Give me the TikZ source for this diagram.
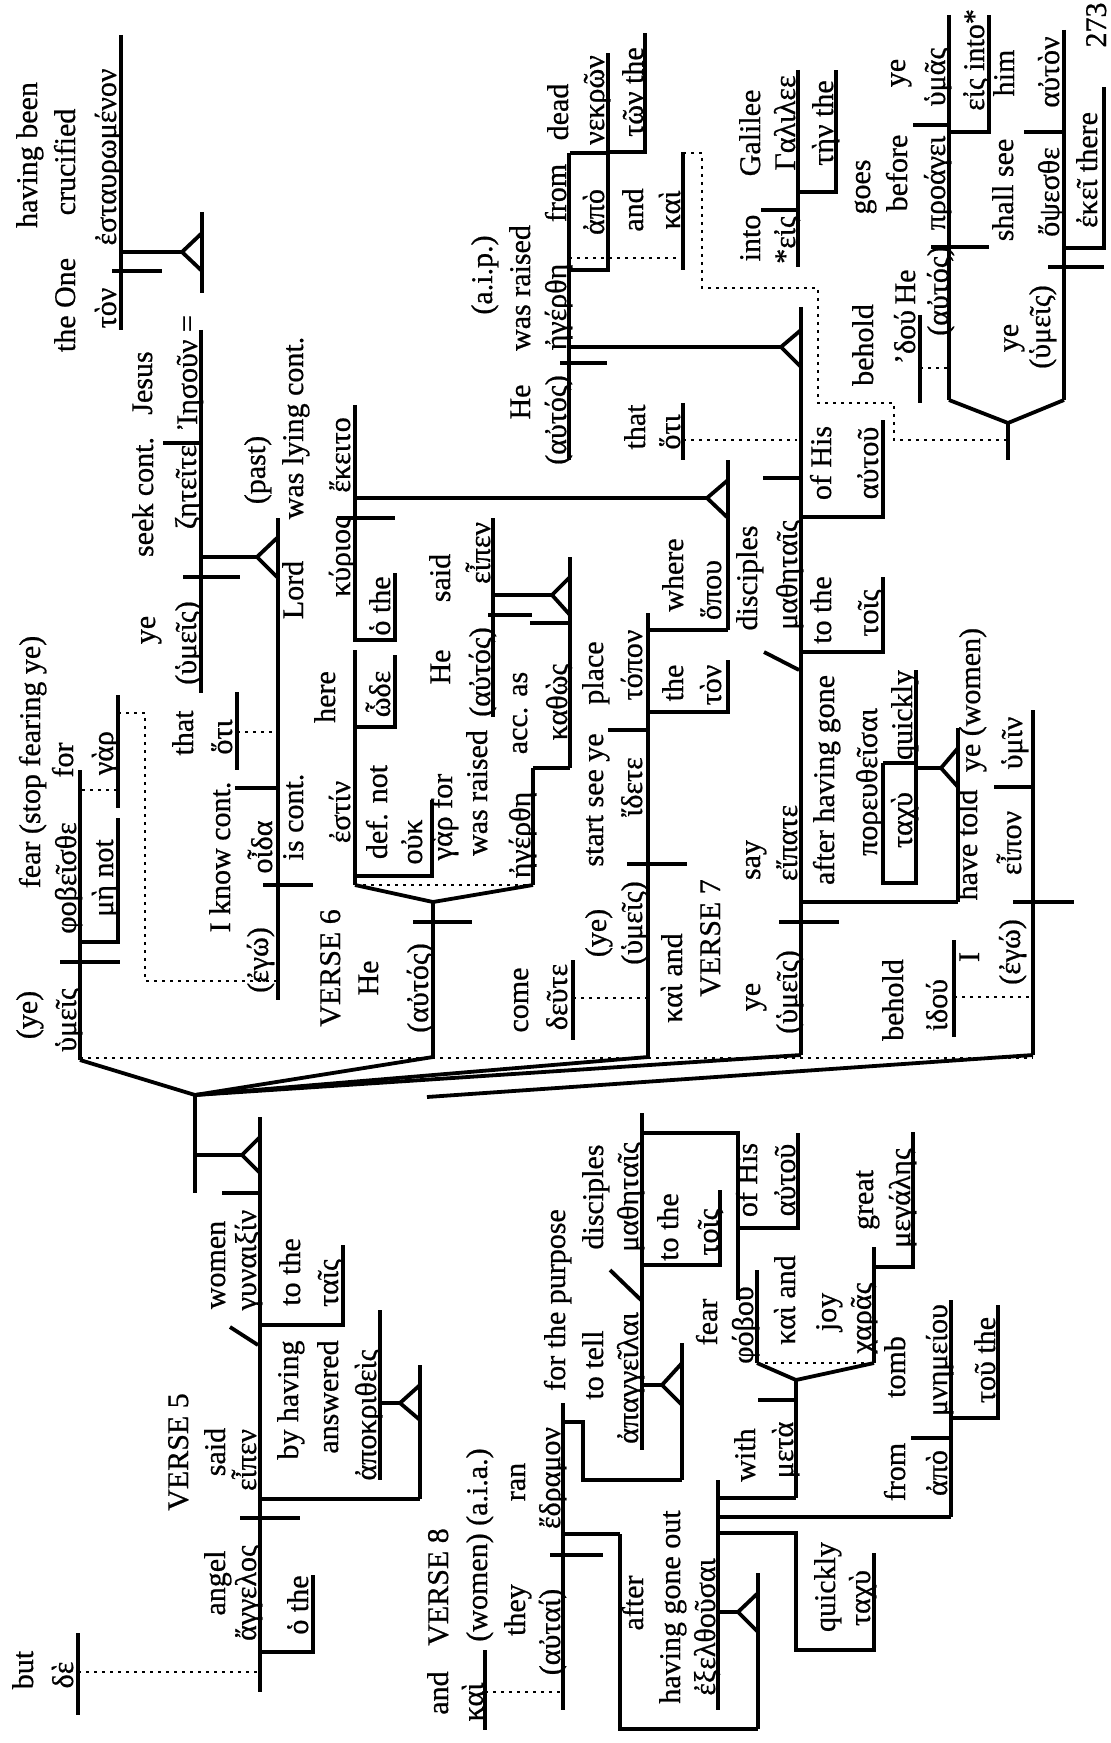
\documentclass[tikz,border=0pt]{standalone}
\usepackage{fontspec}
\setmainfont{Liberation Serif}[FakeBold=0.7]
\newcommand{\wfont}{\fontsize{15}{18}\selectfont}
\begin{document}
\begin{tikzpicture}[x=0.5pt,y=-0.5pt,
  wd/.style={rotate=90, anchor=base, inner sep=0pt, font=\wfont},
  ln/.style={line width=1.9pt},
  dt/.style={line width=1.3pt, dash pattern=on 1.3pt off 2.7pt}]
\fill[white] (0,0) rectangle (1111,1743);
\useasboundingbox (0,0) rectangle (1111,1743);
% ---------- texts ----------
\node[wd] (t1) at (37,155) {having been};
\node[wd] (t2) at (75,162) {crucified};
\node[wd] (t3) at (75,305) {the One};
\node[wd] (t4) at (116,157) {ἐσταυρωμένον};
\node[wd] (t5) at (116,308) {τὸν};
\node[wd] (t6) at (152,383) {Jesus};
\node[wd] (t7) at (197,372) {Ἰησοῦν =};
\node[wd] (t8) at (153,497) {seek cont.};
\node[wd] (t9) at (196,487) {ζητεῖτε};
\node[wd] (t10) at (155,630) {ye};
\node[wd] (t11) at (196,643) {(ὑμεῖς)};
\node[wd] (t12) at (265,470) {(past)};
\node[wd] (t13) at (303,428) {was lying cont.};
\node[wd] (t14) at (350,455) {ἔκειτο};
\node[wd] (t15) at (303,590) {Lord};
\node[wd] (t16) at (350,557) {κύριος};
\node[wd] (t17) at (390,606) {ὁ the};
\node[wd] (t18) at (40,762) {fear (stop fearing ye)};
\node[wd] (t19) at (76,878) {φοβεῖσθε};
\node[wd] (t20) at (113,878) {μὴ not};
\node[wd] (t21) at (73,760) {for};
\node[wd] (t22) at (113,753) {γὰρ};
\node[wd] (t23) at (193,733) {that};
\node[wd] (t24) at (232,737) {ὅτι};
\node[wd] (t25) at (230,857) {I know cont.};
\node[wd] (t26) at (272,847) {οἶδα};
\node[wd] (t27) at (303,817) {is cont.};
\node[wd] (t28) at (350,812) {ἐστίν};
\node[wd] (t29) at (335,697) {here};
\node[wd] (t30) at (390,694) {ὧδε};
\node[wd] (t31) at (37,1015) {(ye)};
\node[wd] (t32) at (76,1020) {ὑμεῖς};
\node[wd] (t33) at (268,960) {(ἐγώ)};
\node[wd] (t34) at (340,968) {VERSE 6};
\node[wd] (t35) at (378,978) {He};
\node[wd] (t36) at (428,988) {(αὐτός)};
\node[wd] (t37) at (387,812) {def. not};
\node[wd] (t38) at (422,842) {οὐκ};
\node[wd] (t39) at (452,817) {γὰρ for};
\node[wd] (t40) at (450,578) {said};
\node[wd] (t41) at (450,667) {He};
\node[wd] (t42) at (490,553) {εἶπεν};
\node[wd] (t43) at (490,672) {(αὐτός)};
\node[wd] (t44) at (487,793) {was raised};
\node[wd] (t45) at (527,713) {acc. as};
\node[wd] (t46) at (567,702) {καθὼς};
\node[wd] (t47) at (530,835) {ἠγέρθη};
\node[wd] (t48) at (683,575) {where};
\node[wd] (t49) at (721,590) {ὅπου};
\node[wd] (t50) at (683,683) {the};
\node[wd] (t51) at (721,685) {τὸν};
\node[wd] (t52a) at (603,800) {start see ye};
\node[wd] (t52b) at (603,673) {place};
\node[wd] (t53) at (642,787) {ἴδετε};
\node[wd] (t54) at (642,665) {τόπον};
\node[wd] (t55) at (606,933) {(ye)};
\node[wd] (t56) at (642,923) {(ὑμεῖς)};
\node[wd] (t57) at (528,1000) {come};
\node[wd] (t58) at (567,997) {δεῦτε};
\node[wd] (t59) at (682,978) {καὶ and};
\node[wd] (t60) at (720,938) {VERSE 7};
\node[wd] (t61) at (760,997) {ye};
\node[wd] (t62) at (797,992) {(ὑμεῖς)};
\node[wd] (t63) at (760,860) {say};
\node[wd] (t64) at (797,843) {εἴπατε};
\node[wd] (t65) at (492,275) {(a.i.p.)};
\node[wd] (t66) at (530,288) {was raised};
\node[wd] (t67) at (566,307) {ἠγέρθη};
\node[wd] (t68) at (566,193) {from};
\node[wd] (t69) at (604,212) {ἀπὸ};
\node[wd] (t70) at (568,112) {dead};
\node[wd] (t71) at (604,100) {νεκρῶν};
\node[wd] (t72) at (643,92) {τῶν the};
\node[wd] (t73) at (643,210) {and};
\node[wd] (t74) at (680,210) {καὶ};
\node[wd] (t75) at (530,402) {He};
\node[wd] (t76) at (566,420) {(αὐτός)};
\node[wd] (t77) at (645,427) {that};
\node[wd] (t78) at (680,432) {ὅτι};
\node[wd] (t79) at (760,238) {into};
\node[wd] (t80) at (795,240) {*εἰς};
\node[wd] (t81) at (760,133) {Galilee};
\node[wd] (t82) at (795,123) {Γαλιλεε};
\node[wd] (t83) at (833,123) {τὴν the};
\node[wd] (t84) at (870,187) {goes};
\node[wd] (t85) at (907,173) {before};
\node[wd] (t86) at (945,183) {προάγει};
\node[wd] (t87) at (905,73) {ye};
\node[wd] (t88) at (945,77) {ὑμᾶς};
\node[wd] (t89) at (984,60) {εἰς into*};
\node[wd] (t90) at (1013,190) {shall see};
\node[wd] (t91) at (1059,192) {ὄψεσθε};
\node[wd] (t92) at (1014,73) {him};
\node[wd] (t93) at (1059,72) {αὐτὸν};
\node[wd] (t94) at (1097,170) {ἐκεῖ there};
\node[wd] (t95) at (1018,338) {ye};
\node[wd] (t96) at (1050,327) {(ὑμεῖς)};
\node[wd] (t97) at (873,345) {behold};
\node[wd] (t98) at (915,337) {’δού};
\node[wd] (t99) at (915,287) {He};
\node[wd] (t100) at (948,291) {(αὐτός)};
\node[wd] (t101) at (1106,25) {273};
\node[wd] (t102) at (757,578) {disciples};
\node[wd] (t103) at (797,575) {μαθηταῖς};
\node[wd] (t104) at (831,463) {of His};
\node[wd] (t105) at (878,463) {αὐτοῦ};
\node[wd] (t106) at (831,610) {to the};
\node[wd] (t107) at (878,613) {τοῖς};
\node[wd] (t108) at (834,780) {after having gone};
\node[wd] (t109) at (877,782) {πορευθεῖσαι};
\node[wd] (t110) at (912,820) {ταχὺ};
\node[wd] (t111) at (912,715) {quickly};
\node[wd] (t112) at (980,700) {ye (women)};
\node[wd] (t113) at (1022,743) {ὑμῖν};
\node[wd] (t114) at (977,845) {have told};
\node[wd] (t115) at (1021,843) {εἶπον};
\node[wd] (t116) at (903,1000) {behold};
\node[wd] (t117) at (947,1005) {ἰδού};
\node[wd] (t118) at (979,957) {I};
\node[wd] (t119) at (1020,952) {(ἐγώ)};
\node[wd] (t120) at (873,1200) {great};
\node[wd] (t121) at (910,1198) {μεγάλης};
\node[wd] (t122) at (565,1300) {for the purpose};
\node[wd] (t123) at (603,1197) {disciples};
\node[wd] (t124) at (638,1197) {μαθηταῖς};
\node[wd] (t125) at (678,1227) {to the};
\node[wd] (t126) at (718,1232) {τοῖς};
\node[wd] (t127) at (757,1180) {of His};
\node[wd] (t128) at (795,1180) {αὐτοῦ};
\node[wd] (t129) at (448,1693) {and};
\node[wd] (t130) at (448,1587) {VERSE 8};
\node[wd] (t131) at (483,1702) {καὶ};
\node[wd] (t132) at (487,1545) {(women) (a.i.a.)};
\node[wd] (t133) at (525,1610) {they};
\node[wd] (t134) at (525,1482) {ran};
\node[wd] (t135) at (560,1632) {(αὐταί)};
\node[wd] (t136) at (560,1478) {ἔδραμον};
\node[wd] (t137) at (603,1365) {to tell};
\node[wd] (t138) at (638,1378) {ἀπαγγεῖλαι};
\node[wd] (t139) at (643,1603) {after};
\node[wd] (t140) at (680,1607) {having gone out};
\node[wd] (t141) at (715,1627) {ἐξελθοῦσαι};
\node[wd] (t142) at (717,1322) {fear};
\node[wd] (t143) at (753,1325) {φόβου};
\node[wd] (t144) at (795,1300) {καὶ and};
\node[wd] (t145) at (836,1312) {joy};
\node[wd] (t146) at (871,1318) {χαρᾶς};
\node[wd] (t147) at (755,1455) {with};
\node[wd] (t148) at (793,1450) {μετὰ};
\node[wd] (t149) at (905,1367) {tomb};
\node[wd] (t150) at (947,1360) {μνημείου};
\node[wd] (t151) at (905,1472) {from};
\node[wd] (t152) at (947,1473) {ἀπὸ};
\node[wd] (t153) at (995,1360) {τοῦ the};
\node[wd] (t154) at (835,1587) {quickly};
\node[wd] (t155) at (870,1598) {ταχὺ};
\node[wd] (t156) at (33,1670) {but};
\node[wd] (t157) at (73,1675) {δὲ};
\node[wd] (t158) at (188,1452) {VERSE 5};
\node[wd] (t159) at (225,1583) {angel};
\node[wd] (t160) at (256,1593) {ἄγγελος};
\node[wd] (t161) at (308,1605) {ὁ the};
\node[wd] (t162) at (225,1452) {said};
\node[wd] (t163) at (256,1460) {εἶπεν};
\node[wd] (t164) at (225,1265) {women};
\node[wd] (t165) at (256,1260) {γυναιξίν};
\node[wd] (t166) at (300,1272) {to the};
\node[wd] (t167) at (338,1283) {ταῖς};
\node[wd] (t168) at (298,1400) {by having};
\node[wd] (t169) at (338,1397) {answered};
\node[wd] (t170) at (376,1415) {ἀποκριθεὶς};
% ---------- solid lines ----------
\draw[ln] (121,35)--(121,330);
\draw[ln] (112,271)--(162,271);
\draw[ln] (121,252)--(182,252) (202,233)--(182,252)--(202,271);
\draw[ln] (202,212)--(202,293);
\draw[ln] (201,330)--(201,693);
\draw[ln] (163,443)--(201,443);
\draw[ln] (183,577)--(240,577);
\draw[ln] (201,557)--(257,557) (277,538)--(257,557)--(277,577);
\draw[ln] (278,518)--(278,1000);
\draw[ln] (237,692)--(237,770);
\draw[ln] (235,788)--(278,788);
\draw[ln] (263,885)--(313,885);
\draw[ln] (80,770)--(80,1060);
\draw[ln] (60,962)--(120,962);
\draw[ln] (80,942)--(118,942)--(118,818);
\draw[ln] (118,695)--(118,808);
\draw[ln] (355,405)--(355,642);
\draw[ln] (337,518)--(395,518);
\draw[ln] (355,640)--(395,640)--(395,573);
\draw[ln] (355,498)--(707,498) (728,480)--(707,498)--(728,518);
\draw[ln] (728,460)--(728,630);
\draw[ln] (648,630)--(728,630);
\draw[ln] (648,712)--(728,712)--(728,660);
\draw[ln] (648,613)--(648,1057);
\draw[ln] (608,730)--(648,730);
\draw[ln] (627,864)--(687,864);
\draw[ln] (355,650)--(355,885);
\draw[ln] (355,727)--(395,727)--(395,655);
\draw[ln] (355,876)--(432,876)--(432,800);
\draw[ln] (355,885)--(433,902)--(533,885);
\draw[ln] (433,902)--(433,1057);
\draw[ln] (413,922)--(472,922);
\draw[ln] (533,768)--(533,885);
\draw[ln] (533,768)--(570,768);
\draw[ln] (570,557)--(570,768);
\draw[ln] (530,623)--(570,623);
\draw[ln] (493,518)--(493,717);
\draw[ln] (488,615)--(532,615);
\draw[ln] (493,595)--(552,595) (570,577)--(552,595)--(570,615);
\draw[ln] (573,960)--(573,1040);
% verse 7
\draw[ln] (569,153)--(569,460);
\draw[ln] (560,363)--(607,363);
\draw[ln] (569,270)--(608,270)--(608,53);
\draw[ln] (570,153)--(608,153);
\draw[ln] (608,152)--(645,152)--(645,33);
\draw[ln] (683,152)--(683,270);
\draw[ln] (683,403)--(683,460);
\draw[ln] (569,347)--(781,347) (801,330)--(781,347)--(801,367);
\draw[ln] (801,307)--(801,1055);
\draw[ln] (763,478)--(801,478);
\draw[ln] (801,517)--(883,517)--(883,420);
\draw[ln] (801,652)--(883,652)--(883,577);
\draw[ln] (764,652)--(799,670);
\draw[ln] (779,922)--(839,922);
\draw[ln] (801,902)--(958,902);
\draw[ln] (958,728)--(958,902);
\draw[ln] (916,768)--(941,768) (958,748)--(941,768)--(958,787);
\draw[ln] (883,763)--(883,883)--(916,883)--(916,670);
\draw[ln] (883,763)--(916,763);
\draw[ln] (798,70)--(798,267);
\draw[ln] (761,210)--(798,210);
\draw[ln] (798,192)--(836,192)--(836,70);
\draw[ln] (949,15)--(949,400);
\draw[ln] (913,125)--(949,125);
\draw[ln] (949,132)--(989,132)--(989,15);
\draw[ln] (931,247)--(989,247);
\draw[ln] (920,315)--(920,403);
\draw[ln] (1064,30)--(1064,400);
\draw[ln] (1024,132)--(1064,132);
\draw[ln] (1048,267)--(1104,267);
\draw[ln] (1064,248)--(1104,248)--(1104,87);
\draw[ln] (949,400)--(1008,423)--(1064,400);
\draw[ln] (1008,423)--(1008,460);
\draw[ln] (1033,710)--(1033,1055);
\draw[ln] (994,787)--(1033,787);
\draw[ln] (1013,902)--(1074,902);
\draw[ln] (954,940)--(954,1037);
% big fork
\draw[ln] (195,1095)--(80,1060);
\draw[ln] (195,1095)--(433,1057);
\draw[ln] (195,1095)--(648,1057);
\draw[ln] (195,1095)--(801,1055);
\draw[ln] (427,1097)--(1033,1055);
\draw[ln] (195,1095)--(195,1193);
\draw[ln] (195,1155)--(242,1155) (260,1137)--(242,1155)--(260,1173);
\draw[ln] (222,1193)--(260,1193);
% verse 5
\draw[ln] (260,1117)--(260,1692);
\draw[ln] (240,1518)--(300,1518);
\draw[ln] (260,1652)--(313,1652)--(313,1575);
\draw[ln] (78,1633)--(78,1715);
\draw[ln] (230,1327)--(258,1345);
\draw[ln] (260,1325)--(343,1325)--(343,1245);
\draw[ln] (260,1499)--(420,1499);
\draw[ln] (420,1365)--(420,1499);
\draw[ln] (380,1310)--(380,1480);
\draw[ln] (380,1403)--(400,1403) (420,1385)--(400,1403)--(420,1420);
% verse 8
\draw[ln] (485,1650)--(485,1730);
\draw[ln] (563,1403)--(563,1710);
\draw[ln] (550,1555)--(603,1555);
\draw[ln] (563,1422)--(583,1422)--(583,1480)--(682,1480);
\draw[ln] (682,1343)--(682,1480);
\draw[ln] (642,1385)--(662,1385) (682,1363)--(662,1385)--(682,1405);
\draw[ln] (642,1113)--(642,1450);
\draw[ln] (610,1270)--(641,1300);
\draw[ln] (642,1265)--(720,1265)--(720,1190);
\draw[ln] (642,1133)--(738,1133)--(738,1300);
\draw[ln] (738,1228)--(798,1228)--(798,1133);
\draw[ln] (563,1534)--(620,1534);
\draw[ln] (718,1533)--(796,1533)--(796,1650)--(874,1650)--(874,1553);
\draw[ln] (620,1534)--(620,1729)--(758,1729);
\draw[ln] (758,1573)--(758,1729);
\draw[ln] (718,1480)--(718,1710);
\draw[ln] (718,1612)--(738,1612) (758,1593)--(738,1612)--(758,1632);
\draw[ln] (718,1498)--(796,1498);
\draw[ln] (796,1380)--(796,1498);
\draw[ln] (758,1400)--(796,1400);
\draw[ln] (757,1363)--(796,1380)--(874,1363);
\draw[ln] (757,1270)--(757,1363);
\draw[ln] (874,1247)--(874,1363);
\draw[ln] (874,1267)--(913,1267)--(913,1132);
\draw[ln] (718,1517)--(951,1517);
\draw[ln] (951,1300)--(951,1517);
\draw[ln] (911,1438)--(951,1438);
\draw[ln] (951,1418)--(998,1418)--(998,1305);
% ---------- dotted lines ----------
\draw[dt] (82,790)--(118,790);
\draw[dt] (118,713)--(145,713)--(145,981)--(278,981);
\draw[dt] (237,732)--(278,732);
\draw[dt] (355,885)--(533,885);
\draw[dt] (573,998)--(648,998);
\draw[dt] (569,258)--(683,258);
\draw[dt] (683,153)--(702,153)--(702,288)--(818,288)--(818,403)--(894,403)--(894,440)--(1008,440);
\draw[dt] (683,440)--(797,440);
\draw[dt] (920,368)--(949,368);
\draw[dt] (954,997)--(1033,997);
\draw[dt] (80,1058)--(1033,1058);
\draw[dt] (78,1672)--(260,1672);
\draw[dt] (485,1692)--(563,1692);
\draw[dt] (757,1363)--(874,1363);
\end{tikzpicture}
\end{document}
